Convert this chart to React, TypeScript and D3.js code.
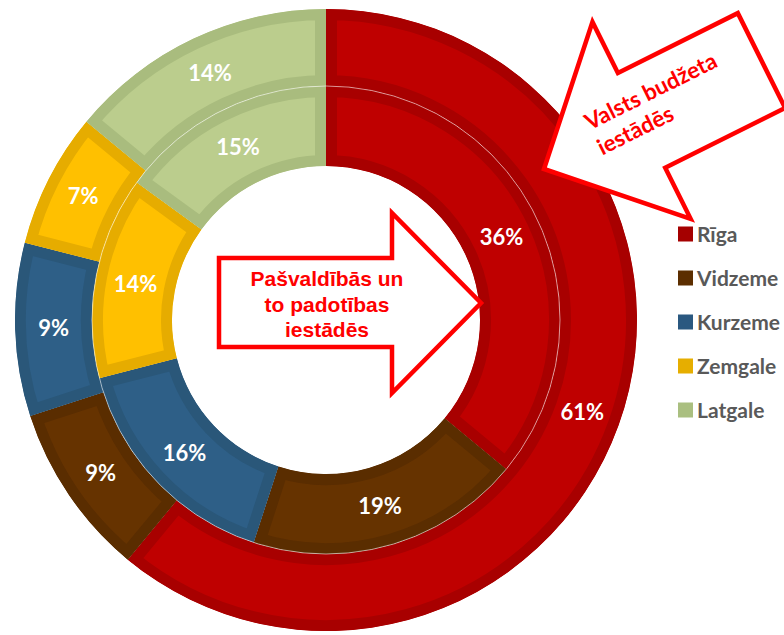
import React from "react";
import * as d3 from "d3";

const categories = ["Rīga", "Vidzeme", "Kurzeme", "Zemgale", "Latgale"];
const outerValues = [61, 9, 9, 7, 14];
const innerValues = [36, 19, 16, 14, 15];
const fillColors = ["#BF0000", "#663300", "#2E5F87", "#FFC000", "#BBCD8D"];
const borderColors = ["#A80000", "#5A2D00", "#2A5779", "#E6AC00", "#A9BC7E"];
const legendColors = ["#A50000", "#5C2E00", "#2A5880", "#E6AE00", "#AABF80"];
const centerArrowLines = ["Pašvaldībās un", "to padotības", "iestādēs"];
const cornerArrowLines = ["Valsts budžeta", "iestādēs"];

const W = 784;
const H = 635;
const cx = 326;
const cy = 320;
const rHole = 154;
const rMid = 234;
const rOuter = 311;
const BORDER = 11;

type Ring = { key: string; values: number[]; r0: number; r1: number };

export default function App() {
  const pie = d3
    .pie<number>()
    .sort(null)
    .value((d) => d)
    .startAngle(0)
    .endAngle(2 * Math.PI);

  const rings: Ring[] = [
    { key: "outer", values: outerValues, r0: rMid, r1: rOuter },
    { key: "inner", values: innerValues, r0: rHole, r1: rMid },
  ];

  const labelFont = "Lato, 'Open Sans', sans-serif";

  return (
    <svg
      width={W}
      height={H}
      style={{ position: "absolute", left: 0, top: 0, background: "#fff" }}
    >
      <defs>
        {rings.map((ring) => {
          const arc = d3.arc<d3.PieArcDatum<number>>().innerRadius(ring.r0).outerRadius(ring.r1);
          return pie(ring.values).map((d, i) => (
            <clipPath id={`clip-${ring.key}-${i}`} key={`${ring.key}-${i}`}>
              <path d={arc(d) || ""} />
            </clipPath>
          ));
        })}
      </defs>
      <g transform={`translate(${cx},${cy})`}>
        {rings.map((ring) => {
          const arc = d3.arc<d3.PieArcDatum<number>>().innerRadius(ring.r0).outerRadius(ring.r1);
          return pie(ring.values).map((d, i) => (
            <path
              key={`${ring.key}-${i}`}
              d={arc(d) || ""}
              fill={fillColors[i]}
              stroke={borderColors[i]}
              strokeWidth={BORDER * 2}
              clipPath={`url(#clip-${ring.key}-${i})`}
            />
          ));
        })}
        <circle r={rMid} fill="none" stroke="rgba(255,255,255,0.55)" strokeWidth={1} />
        {rings.map((ring) => {
          const arc = d3.arc<d3.PieArcDatum<number>>().innerRadius(ring.r0).outerRadius(ring.r1);
          return pie(ring.values).map((d, i) => {
            const [x, y] = arc.centroid(d);
            return (
              <text
                key={`lbl-${ring.key}-${i}`}
                x={x}
                y={y}
                dy="0.36em"
                textAnchor="middle"
                fill="#fff"
                fontFamily={labelFont}
                fontWeight={700}
                fontSize={22}
              >
                {`${d.data}%`}
              </text>
            );
          });
        })}
      </g>

      {/* Center block arrow */}
      <polygon
        points="219,258 392,258 392,213 481,303 392,393 392,347 219,347"
        fill="#fff"
        stroke="#FF0000"
        strokeWidth={4.5}
        strokeLinejoin="miter"
      />
      {centerArrowLines.map((t, i) => (
        <text
          key={`ca-${i}`}
          x={327}
          y={286 + i * 25.5}
          textAnchor="middle"
          fill="#FF0000"
          fontFamily="'Liberation Sans', Arial, sans-serif"
          fontWeight={700}
          fontSize={21}
        >
          {t}
        </text>
      ))}

      {/* Corner block arrow */}
      <g transform="translate(544,169) rotate(-26.5)">
        <polygon
          points="0,0 109,-110 109,-53 243,-53 243,53 109,53 109,110"
          fill="#fff"
          stroke="#FF0000"
          strokeWidth={4.5}
          strokeLinejoin="miter"
        />
        {cornerArrowLines.map((t, i) => (
          <text
            key={`cr-${i}`}
            x={58}
            y={-14 + i * 28}
            fill="#FF0000"
            fontFamily={labelFont}
            fontWeight={700}
            fontSize={22.5}
          >
            {t}
          </text>
        ))}
      </g>

      {/* Legend */}
      {categories.map((c, i) => {
        const y = 234 + i * 44;
        return (
          <g key={`lg-${i}`}>
            <rect x={678} y={y - 7.5} width={15} height={15} fill={legendColors[i]} />
            <text
              x={697}
              y={y}
              dy="0.36em"
              fill="#595959"
              fontFamily={labelFont}
              fontWeight={700}
              fontSize={21}
            >
              {c}
            </text>
          </g>
        );
      })}
    </svg>
  );
}
